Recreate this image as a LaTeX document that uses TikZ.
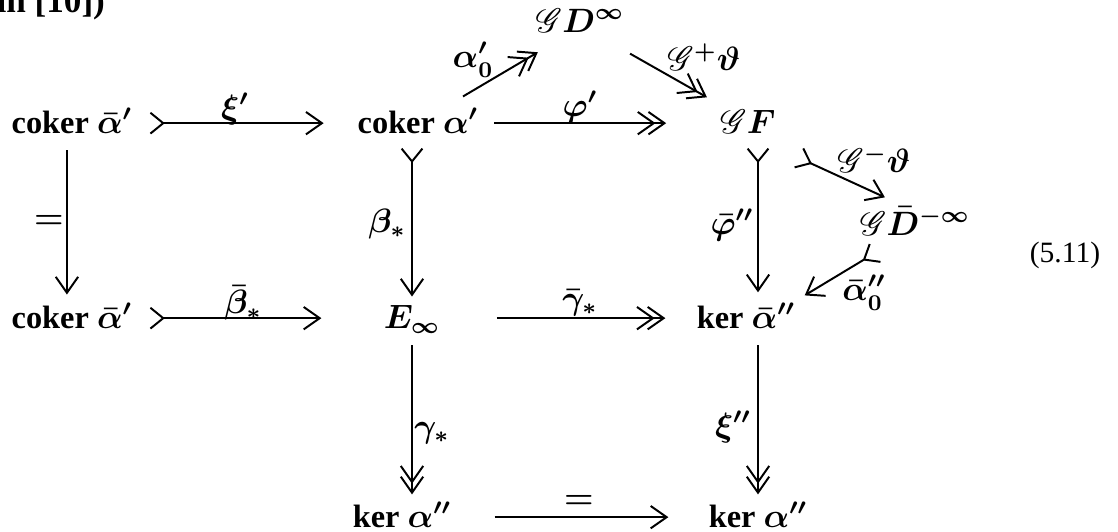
\documentclass[tikz,border=0pt]{standalone}
\usepackage{amsmath,amssymb}
\usepackage{mathrsfs}
\usepackage{fontspec}
\setmainfont{Liberation Serif}
\usetikzlibrary{arrows.meta}
\tikzset{
  obj/.style={font=\fontsize{11.5}{14}\selectfont\bfseries\boldmath, inner sep=0pt,
              text height=9pt, text depth=2pt, anchor=base},
  lbl/.style={font=\fontsize{12}{14}\selectfont\boldmath, inner sep=0pt},
  ar/.style={-{Straight Barb[length=2mm,width=2.8mm]}, line width=0.7pt},
  mono/.style={ar, {Straight Barb[reversed,length=1.6mm,width=2.6mm]}-{Straight Barb[length=2mm,width=2.8mm]}},
  epi/.style={ar, -{Straight Barb[length=2mm,width=2.8mm,sep=-1mm]Straight Barb[length=2mm,width=2.8mm]}},
}
\newcommand{\sG}{\mathscr{G}}

\begin{document}
\begin{tikzpicture}[x=0.0125cm, y=-0.0125cm]
\useasboundingbox (0,0) rectangle (1118,531);
% cut-off line of text above
\node[font=\fontsize{12.5}{14}\selectfont\bfseries, anchor=base west, inner sep=0pt] (prev) at (-4,12) {in [10])};

% objects
\node[obj] (cb1)  at (72,133)  {coker $\bar\alpha'$};
\node[obj] (ca)   at (418,133) {coker $\alpha'$};
\node[obj] (GF)   at (748,133) {$\sG F$};
\node[obj] (GD)   at (580,32)  {$\sG D^\infty$};
\node[obj] (cb2)  at (72,328)  {coker $\bar\alpha'$};
\node[obj] (Einf) at (412,328) {$E_\infty$};
\node[obj] (kb)   at (746,328) {ker $\bar\alpha''$};
\node[obj] (GDm)  at (915,235) {$\sG\bar D^{-\infty}$};
\node[obj] (k1)   at (402,527) {ker $\alpha''$};
\node[obj] (k2)   at (758,527) {ker $\alpha''$};
\node[font=\fontsize{10.5}{12}\selectfont, anchor=base] (eqno) at (1065,262) {(5.11)};

% top row
\draw[mono, shorten <=5.9pt, shorten >=11.9pt] (cb1.east) -- (ca.west);
\draw[epi, shorten <=5.5pt, shorten >=19.1pt] (ca.east) -- (GF.west);
\draw[epi] ([xshift=16pt,yshift=3.8pt]ca.north) -- ([xshift=-15pt,yshift=-5pt]GD.south);
\draw[epi] ([xshift=17.8pt,yshift=-5.5pt]GD.south) -- ([xshift=-14.6pt,yshift=3.5pt]GF.north);

% middle row
\draw[mono, shorten <=5.9pt, shorten >=22pt] (cb2.east) -- (Einf.west);
\draw[epi, shorten <=20pt, shorten >=11pt] (Einf.east) -- (kb.west);
\draw[mono] ([xshift=7.8pt,yshift=-6.5pt]GF.south east) -- ([xshift=-10.7pt,yshift=4.2pt]GDm.north);
\draw[mono] ([xshift=-13.9pt,yshift=-4pt]GDm.south) -- ([xshift=3.2pt,yshift=2.4pt]kb.north east);

% bottom row
\draw[ar, shorten <=15.3pt, shorten >=14.2pt] (k1.east) -- (k2.west);

% columns
\draw[ar, shorten <=4pt, shorten >=2.7pt] ([xshift=-1.8pt]cb1.south) -- ([xshift=-1.8pt]cb2.north);
\draw[mono, shorten <=3pt, shorten >=2pt] (ca.south -| Einf.north) -- (Einf.north);
\draw[epi, shorten <=4pt, shorten >=2.4pt] (Einf.south) -- (Einf.south |- k1.north);
\draw[mono, shorten <=3pt, shorten >=3.5pt] (GF.south -| k2.north) -- (kb.north -| k2.north);
\draw[epi, shorten <=4pt, shorten >=2.4pt] (kb.south -| k2.north) -- (k2.north);

% labels
\node[lbl] (lxi)   at (235,109) {$\xi'$};
\node[lbl] (lphi)  at (580,107) {$\varphi'$};
\node[lbl] (lal0)  at (473,60)  {$\alpha'_0$};
\node[lbl] (lGp)   at (704,57)  {$\sG^+\vartheta$};
\node[lbl] (lGm)   at (874,159) {$\sG^-\vartheta$};
\node[lbl] (lal0b) at (864,293) {$\bar\alpha''_0$};
\node[lbl] (leq1)  at (49,222)  {$=$};
\node[lbl] (lbeta) at (387,224) {$\beta_*$};
\node[lbl] (lphib) at (732,225) {$\bar\varphi''$};
\node[lbl] (lbetab) at (243,303) {$\bar\beta_*$};
\node[lbl] (lgamb) at (580,303) {$\bar\gamma_*$};
\node[lbl] (lgam)  at (432,433) {$\gamma_*$};
\node[lbl] (lxi2)  at (733,427) {$\xi''$};
\node[lbl] (leq2)  at (579,502) {$=$};
\end{tikzpicture}
\end{document}
